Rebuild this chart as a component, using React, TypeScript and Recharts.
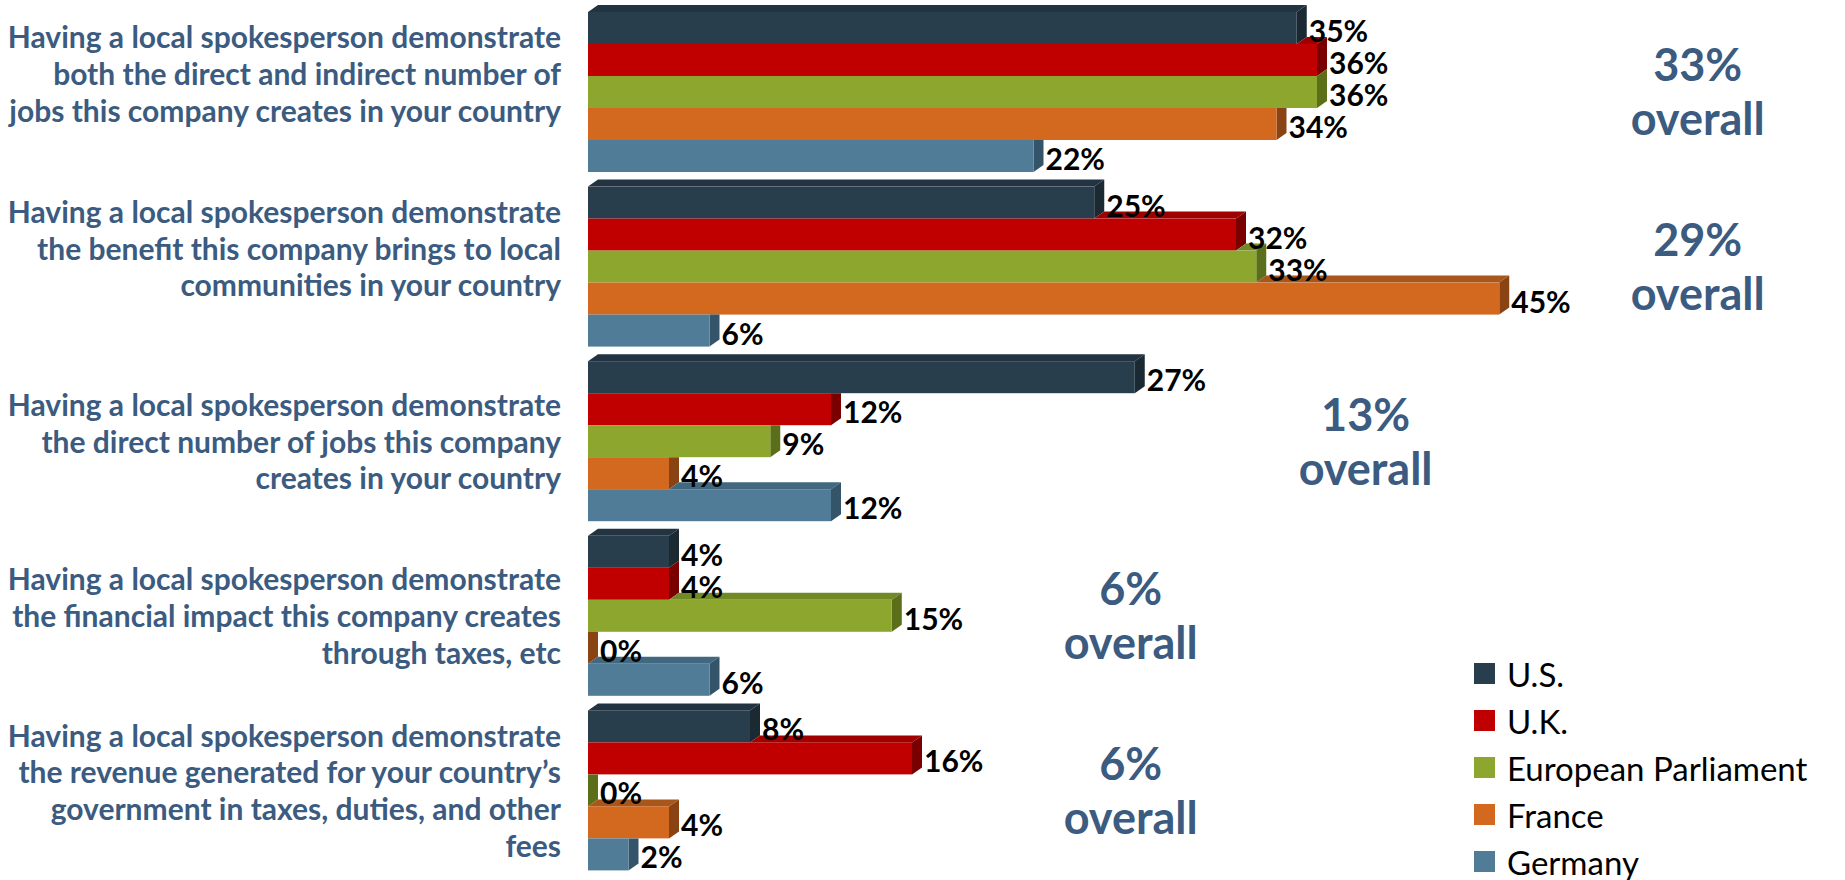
import { BarChart, Bar, XAxis, YAxis, LabelList, ReferenceDot, Legend } from 'recharts';

// category labels (line breaks as in the slide, trailing '\n' keeps the empty last line)
const categories = [
    'Having a local spokesperson demonstrate\nboth the direct and indirect number of\njobs this company creates in your country\n',
    'Having a local spokesperson demonstrate\nthe benefit this company brings to local\ncommunities in your country\n',
    'Having a local spokesperson demonstrate\nthe direct number of jobs this company\ncreates in your country',
    'Having a local spokesperson demonstrate\nthe financial impact this company creates\nthrough taxes, etc',
    'Having a local spokesperson demonstrate\nthe revenue generated for your country’s\ngovernment in taxes, duties, and other\nfees',
];

const seriesNames = ['U.S.', 'U.K.', 'European Parliament', 'France', 'Germany'];
const us = [35, 25, 27, 4, 8];
const uk = [36, 32, 12, 4, 16];
const europe = [36, 33, 9, 15, 0];
const france = [34, 45, 4, 0, 4];
const germany = [22, 6, 12, 6, 2];
const overall = [33, 29, 13, 6, 6];

const seriesKeys = ['us', 'uk', 'europe', 'france', 'germany'];

const data = categories.map((name, i) => ({
    name,
    us: us[i],
    uk: uk[i],
    europe: europe[i],
    france: france[i],
    germany: germany[i],
}));

// layout
const W = 1845;
const H = 880;
const MARGIN = { top: 4, right: 42, bottom: 3, left: 0 };
const Y_AXIS_W = 588;
const X_MAX = 60;
const PX_PER_UNIT = (W - MARGIN.left - MARGIN.right - Y_AXIS_W) / X_MAX;
const DX = 10;
const DY = -7;
const overallX = [54.8, 54.8, 38.4, 26.8, 26.8];

const FONT = 'Lato, "Open Sans", sans-serif';
const LABEL_BLUE = '#3b5b80';

const FRONT = ['#283e4c', '#c00000', '#8da72e', '#d2691e', '#507c98'];
const TOP = ['#223341', '#a10000', '#718a26', '#a9561a', '#41687f'];
const SIDE = ['#1b2933', '#7a0000', '#5b6f1b', '#8a4414', '#34546a'];

function make3DShape(idx: number) {
    return (props: any) => {
        const { x, y, width, height, payload } = props;
        const w = Math.max(0, width || 0);
        const prev = idx > 0 ? payload[seriesKeys[idx - 1]] * PX_PER_UNIT : null;
        const parts = [];
        // top face, only where it sticks out past the bar above
        const topStart = prev == null ? x : x + prev;
        if (prev == null || prev < w) {
            parts.push(
                <polygon
                    key="top"
                    fill={TOP[idx]}
                    points={`${topStart},${y} ${x + w},${y} ${x + w + DX},${y + DY} ${topStart + DX},${y + DY}`}
                />
            );
        }
        // side face
        const hidden = prev != null && prev > w;
        const sidePts = hidden
            ? `${x + w},${y} ${x + w + DX},${y} ${x + w + DX},${y + height + DY} ${x + w},${y + height}`
            : `${x + w},${y} ${x + w + DX},${y + DY} ${x + w + DX},${y + height + DY} ${x + w},${y + height}`;
        parts.push(<polygon key="side" fill={SIDE[idx]} points={sidePts} />);
        parts.push(<rect key="front" x={x} y={y} width={w} height={height} fill={FRONT[idx]} />);
        return <g>{parts}</g>;
    };
}

const ValueLabel = (props: any) => {
    const { x, y, width, height, value } = props;
    return (
        <text
            x={x + Math.max(0, width) + DX + 2}
            y={y + height / 2 + 2}
            dominantBaseline="central"
            fontFamily={FONT}
            fontWeight={700}
            fontSize={30}
            fill="#000"
        >
            {value}%
        </text>
    );
};

const CategoryTick = (props: any) => {
    const { y, payload } = props;
    const lines = String(payload.value).split('\n');
    const lh = 36.8;
    const y0 = y - ((lines.length - 1) * lh) / 2;
    return (
        <g>
            {lines.map((line, i) => (
                <text
                    key={i}
                    x={561}
                    y={y0 + i * lh}
                    textAnchor="end"
                    dominantBaseline="central"
                    fontFamily={FONT}
                    fontWeight={700}
                    fontSize={30}
                    fill={LABEL_BLUE}
                >
                    {line}
                </text>
            ))}
        </g>
    );
};

// keep the series order (Recharts would otherwise sort the items by name)
const LegendBox = (props: any) => {
    const { payload } = props;
    const items = seriesNames
        .map((n) => (payload || []).find((p: any) => p.value === n))
        .filter(Boolean);
    return (
        <div style={{ fontFamily: FONT, fontSize: 33, color: '#000' }}>
            {items.map((item: any) => (
                <div key={item.value} style={{ display: 'flex', alignItems: 'center', height: 47 }}>
                    <span style={{ display: 'inline-block', width: 21, height: 21, background: item.color, marginRight: 12 }} />
                    <span>{item.value}</span>
                </div>
            ))}
        </div>
    );
};

export default function App() {
    return (
        <div style={{ position: 'absolute', left: 0, top: 0, width: W, height: H, background: '#fff' }}>
            <BarChart
                layout="vertical"
                width={W}
                height={H}
                data={data}
                margin={MARGIN}
                barCategoryGap={8}
                barGap={0}
            >
                <XAxis type="number" domain={[0, X_MAX]} hide />
                <YAxis
                    type="category"
                    dataKey="name"
                    width={Y_AXIS_W}
                    axisLine={false}
                    tickLine={false}
                    interval={0}
                    tick={<CategoryTick />}
                />
                {seriesKeys.map((key, i) => (
                    <Bar
                        key={key}
                        dataKey={key}
                        name={seriesNames[i]}
                        fill={FRONT[i]}
                        shape={make3DShape(i)}
                        isAnimationActive={false}
                    >
                        <LabelList dataKey={key} content={<ValueLabel />} />
                    </Bar>
                ))}
                {categories.map((c, i) => (
                    <ReferenceDot
                        key={c}
                        x={overallX[i]}
                        y={c}
                        r={0}
                        ifOverflow="visible"
                        shape={(p: any) => (
                            <g>
                                <text x={p.cx} y={p.cy - 27} textAnchor="middle" dominantBaseline="central"
                                    fontFamily={FONT} fontWeight={700} fontSize={45} fill={LABEL_BLUE}>
                                    {overall[i]}%
                                </text>
                                <text x={p.cx} y={p.cy + 27} textAnchor="middle" dominantBaseline="central"
                                    fontFamily={FONT} fontWeight={700} fontSize={45} fill={LABEL_BLUE}>
                                    overall
                                </text>
                            </g>
                        )}
                    />
                ))}
                <Legend
                    layout="vertical"
                    align="center"
                    verticalAlign="middle"
                    content={<LegendBox />}
                    wrapperStyle={{ left: 1474, top: 650, width: 371, height: 235 }}
                />
            </BarChart>
        </div>
    );
}
